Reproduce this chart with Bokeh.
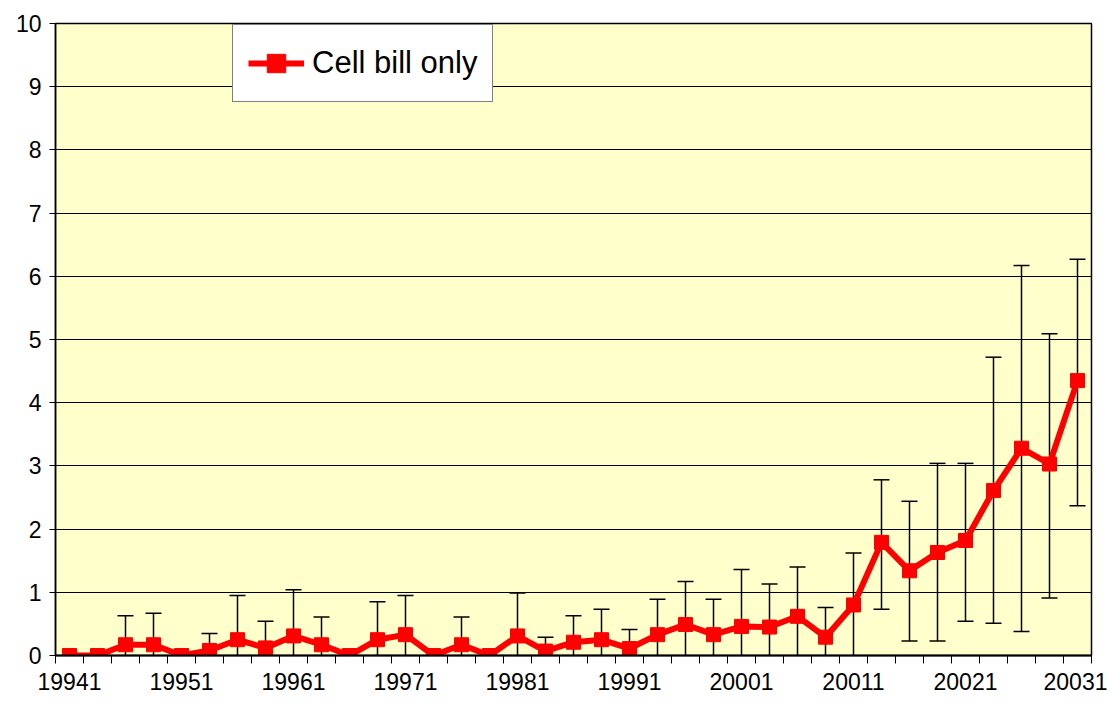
import numpy as np
from bokeh.plotting import figure
from bokeh.models import FixedTicker, Legend, LegendItem, ColumnDataSource
from bokeh.embed import file_html
from bokeh.resources import INLINE

# ---- data ----
periods = ["19941", "19942", "19943", "19944",
           "19951", "19952", "19953", "19954",
           "19961", "19962", "19963", "19964",
           "19971", "19972", "19973", "19974",
           "19981", "19982", "19983", "19984",
           "19991", "19992", "19993", "19994",
           "20001", "20002", "20003", "20004",
           "20011", "20012", "20013", "20014",
           "20021", "20022", "20023", "20024",
           "20031"]

cell_bill_only = [0.00, 0.00, 0.17, 0.17, 0.00, 0.08, 0.25, 0.12,
                  0.31, 0.17, 0.00, 0.25, 0.33, 0.00, 0.17, 0.00,
                  0.31, 0.07, 0.21, 0.25, 0.11, 0.33, 0.49, 0.33,
                  0.46, 0.45, 0.62, 0.29, 0.80, 1.79, 1.34, 1.63,
                  1.82, 2.61, 3.28, 3.03, 4.35]

nan = float("nan")
err_upper = [nan, nan, 0.63, 0.67, nan, 0.35, 0.95, 0.54,
             1.04, 0.61, nan, 0.85, 0.95, nan, 0.61, nan,
             0.99, 0.29, 0.63, 0.73, 0.41, 0.89, 1.17, 0.89,
             1.36, 1.13, 1.40, 0.76, 1.62, 2.78, 2.44, 3.04,
             3.04, 4.72, 6.17, 5.09, 6.27]

err_lower = [nan, nan, 0.0, 0.0, nan, 0.0, 0.0, 0.0,
             0.0, 0.0, nan, 0.0, 0.0, nan, 0.0, nan,
             0.0, 0.0, 0.0, 0.0, 0.0, 0.0, 0.0, 0.0,
             0.0, 0.0, 0.0, 0.0, 0.0, 0.73, 0.23, 0.23,
             0.54, 0.51, 0.38, 0.91, 2.37]

y_ticks = [0, 1, 2, 3, 4, 5, 6, 7, 8, 9, 10]
series_name = "Cell bill only"

# ---- build ----
n = len(periods)
x = np.arange(n)
up = np.array(err_upper)
lo = np.array(err_lower)
has_err = ~np.isnan(up)

FONT = "Liberation Sans"

p = figure(width=1107, height=696, x_range=(-0.5, n - 0.5), y_range=(0, 10),
           output_backend="svg", toolbar_location=None,
           min_border_left=55, min_border_right=16, min_border_top=23,
           min_border_bottom=41,
           background_fill_color="#FFFFCC", border_fill_color="white")

p.outline_line_color = "black"
p.outline_line_width = 1.5

# error bars
err_src = ColumnDataSource(dict(x=x[has_err], up=up[has_err], lo=lo[has_err]))
p.segment(x0="x", y0="lo", x1="x", y1="up", source=err_src,
          line_color="black", line_width=1.5)
p.scatter(x="x", y="up", source=err_src, marker="dash", size=16,
          line_color="black", line_width=1.5)
lo_mask = has_err & (np.nan_to_num(lo) > 0)
lo_src = ColumnDataSource(dict(x=x[lo_mask], lo=lo[lo_mask]))
p.scatter(x="x", y="lo", source=lo_src, marker="dash", size=16,
          line_color="black", line_width=1.5)

# series
src = ColumnDataSource(dict(x=x, y=cell_bill_only))
line_r = p.line(x="x", y="y", source=src, line_color="#FF0000", line_width=6,
                line_join="round")
mark_r = p.scatter(x="x", y="y", source=src, marker="square", size=14,
                   fill_color="#FF0000", line_color="#FF0000")

# axes
xa = p.xaxis[0]
label_idx = [int(i) for i in x[::4]]
xa.ticker = FixedTicker(ticks=label_idx,
                        minor_ticks=[float(i) - 0.5 for i in range(n + 1)])
xa.major_label_overrides = {i: periods[i] for i in label_idx}
xa.major_tick_line_color = None
xa.major_tick_out = 8
xa.major_tick_in = 0
xa.minor_tick_line_color = "black"
xa.minor_tick_line_width = 1
xa.minor_tick_out = 8
xa.minor_tick_in = 0
xa.major_label_standoff = 9
xa.axis_line_color = "black"
xa.axis_line_width = 2
xa.major_label_text_font = FONT
xa.major_label_text_font_size = "23px"
xa.major_label_text_color = "black"

ya = p.yaxis[0]
ya.ticker = FixedTicker(ticks=y_ticks, minor_ticks=[])
ya.major_tick_out = 6
ya.major_tick_in = 0
ya.major_tick_line_color = "black"
ya.major_label_standoff = 8
ya.axis_line_color = "black"
ya.axis_line_width = 1.5
ya.major_label_text_font = FONT
ya.major_label_text_font_size = "23px"
ya.major_label_text_color = "black"

p.xgrid.grid_line_color = None
p.ygrid.ticker = FixedTicker(ticks=y_ticks)
p.ygrid.grid_line_color = "black"
p.ygrid.grid_line_width = 1

legend = Legend(items=[LegendItem(label=series_name, renderers=[line_r, mark_r])],
                location=(177, 553))
legend.border_line_color = "black"
legend.border_line_width = 1
legend.background_fill_color = "white"
legend.background_fill_alpha = 1
legend.label_text_font = FONT
legend.label_text_font_size = "31px"
legend.label_text_color = "black"
legend.glyph_width = 56
legend.glyph_height = 46
legend.label_height = 46
legend.label_standoff = 8
legend.padding = 15
legend.margin = 0
legend.spacing = 0
p.add_layout(legend)

open("out.html", "w").write(file_html(p, INLINE))
